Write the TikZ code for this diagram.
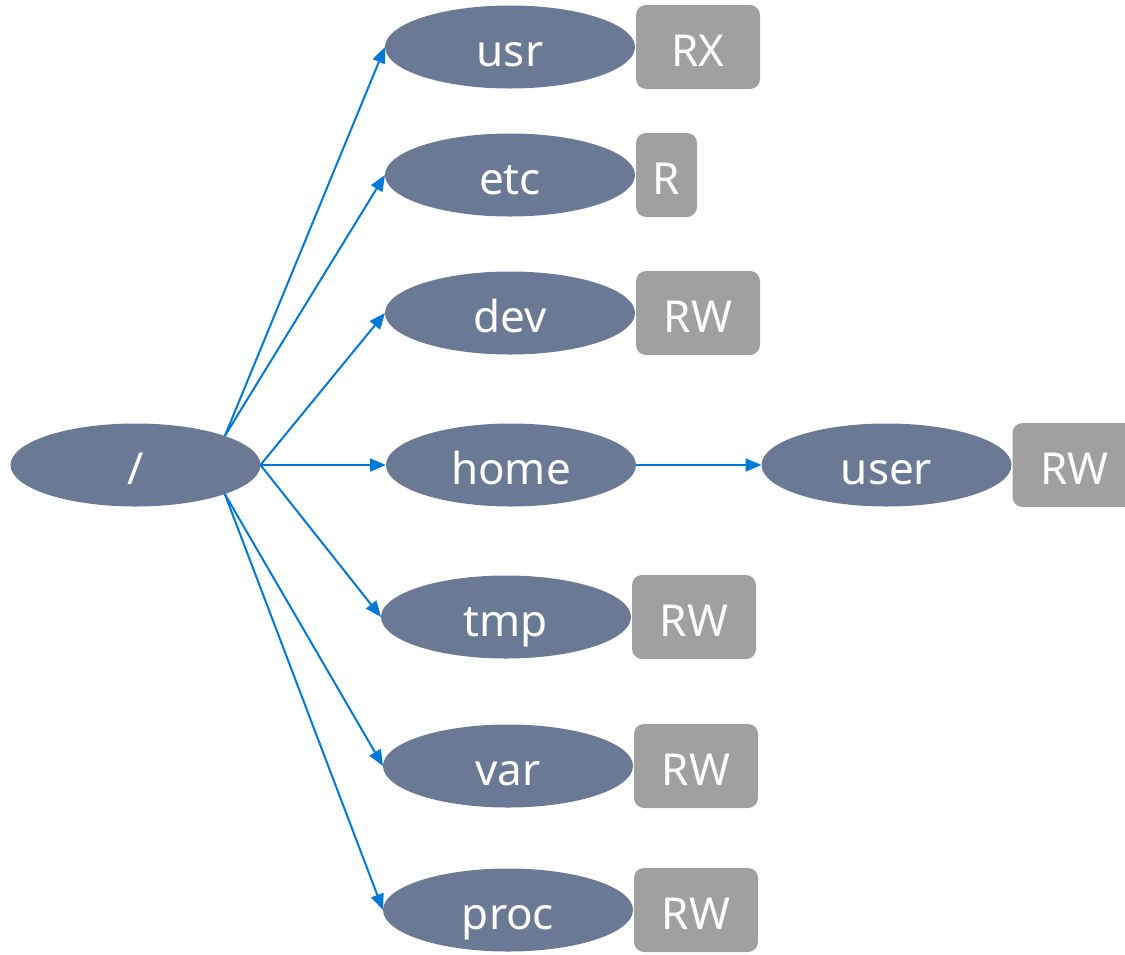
\documentclass[tikz,border=0pt]{standalone}
\usepackage{fontspec}
\setmainfont{Noto Sans}
\usetikzlibrary{positioning,arrows.meta,shapes.geometric}
\definecolor{dirfill}{HTML}{6B7A94}
\definecolor{permfill}{HTML}{A0A0A0}
\definecolor{linkblue}{HTML}{0078D7}
\tikzset{
    font = \fontsize{44}{50}\selectfont,
    node distance = 1pt,
    every node/.style = {
        inner sep = 0pt,
        outer sep = 0pt,
        text = white,
        text height = 38pt,
        text depth = 0pt
    },
    dir/.style = {
        ellipse,
        fill = dirfill,
        minimum width = 250pt,
        minimum height = 83pt
    },
    perm/.style = {
        fill = permfill,
        rounded corners = 10pt,
        minimum width = 124pt,
        minimum height = 84pt
    },
    link/.style = {
        -{Triangle[length=16pt,width=13pt]},
        draw = linkblue,
        line width = 2pt
    }
}

\begin{document}
\begin{tikzpicture}
    \useasboundingbox (0,0) rectangle (1125pt,-954pt);
    \node (root) at (135.5pt,-465pt) [dir]{/};
    \node (usr)  at (510pt,-47pt)  [dir]{usr};
    \node (etc)  at (510pt,-175pt) [dir]{etc};
    \node (dev)  at (510pt,-313pt) [dir]{dev};
    \node (home) at (511pt,-465pt) [dir]{home};
    \node (tmp)  at (506pt,-617pt) [dir]{tmp};
    \node (var)  at (508pt,-766pt) [dir]{var};
    \node (proc) at (508pt,-910pt) [dir]{proc};
    \node (user) at (886.5pt,-465pt) [dir]{user};
    % permission tags
    \node (usrperm)  [perm, right=of usr]{RX};
    \node (etcperm)  [perm, right=of etc, minimum width=61pt]{R};
    \node (devperm)  [perm, right=of dev]{RW};
    \node (userperm) [perm, right=of user]{RW};
    \node (tmpperm)  [perm, right=of tmp]{RW};
    \node (varperm)  [perm, right=of var]{RW};
    \node (procperm) [perm, right=of proc]{RW};
    % links
    \draw[link] (root.18) -- (usr.west);
    \draw[link] (root.18) -- (etc.west);
    \draw[link] (root.east) -- (dev.west);
    \draw[link] (root.east) -- (home.west);
    \draw[link] (root.east) -- (tmp.west);
    \draw[link] (root.-18) -- (var.west);
    \draw[link] (root.-18) -- (proc.west);
    \draw[link] (home.east) -- (user.west);
\end{tikzpicture}
\end{document}
